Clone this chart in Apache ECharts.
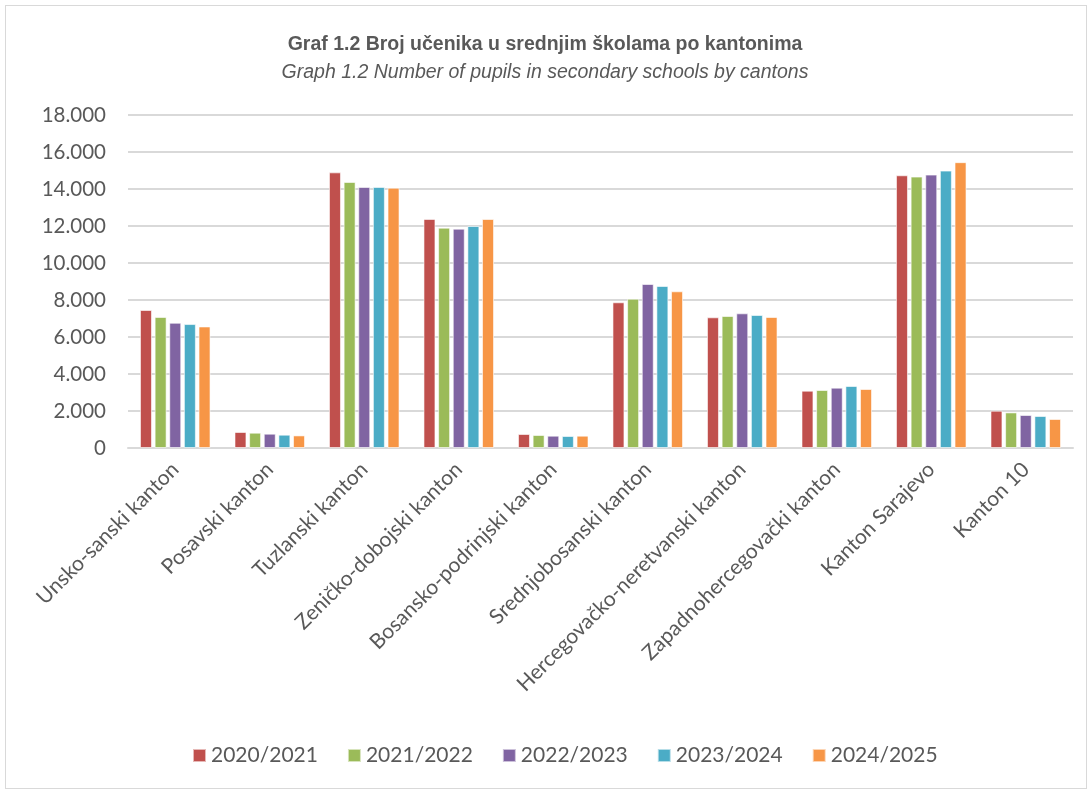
<!DOCTYPE html>
<html><head><meta charset="utf-8">
<script src="https://cdn.jsdelivr.net/npm/echarts@6/dist/echarts.min.js"></script>
<style>
html,body{margin:0;padding:0;background:#fff;}
#frame{position:absolute;left:5px;top:5px;width:1082px;height:784px;border:1px solid #d9d9d9;box-sizing:border-box;}
#c{position:absolute;left:0;top:0;width:1090px;height:791px;}
</style></head>
<body><div id="frame"></div><div id="c"></div>
<script>
const categories = ["Unsko-sanski kanton","Posavski kanton","Tuzlanski kanton","Zeničko-dobojski kanton","Bosansko-podrinjski kanton","Srednjobosanski kanton","Hercegovačko-neretvanski kanton","Zapadnohercegovački kanton","Kanton Sarajevo","Kanton 10"];
const seriesNames = ["2020/2021","2021/2022","2022/2023","2023/2024","2024/2025"];
const y2020 = [7460, 865, 14900, 12380, 757, 7876, 7065, 3097, 14741, 2016];
const y2021 = [7080, 827, 14380, 11910, 703, 8070, 7135, 3135, 14670, 1924];
const y2022 = [6770, 773, 14110, 11856, 665, 8865, 7280, 3260, 14778, 1784];
const y2023 = [6700, 719, 14110, 12000, 649, 8757, 7189, 3350, 14994, 1730];
const y2024 = [6570, 681, 14070, 12378, 665, 8470, 7081, 3189, 15450, 1568];
const colors = ["#C0504D","#9BBB59","#8064A2","#4BACC6","#F79646"];
const allData = [y2020,y2021,y2022,y2023,y2024];

const chart = echarts.init(document.getElementById('c'));
const fmt = v => String(v).replace(/\B(?=(\d{3})+(?!\d))/g, '.');
chart.setOption({
  animation:false,
  color:colors,
  title:{
    text:"Graf 1.2 Broj učenika u srednjim školama po kantonima",
    subtext:"Graph 1.2 Number of pupils in secondary schools by cantons",
    left:'center', top:30, itemGap:8,
    textStyle:{fontFamily:"'Liberation Sans Narrow','Arial Narrow',sans-serif",fontSize:19.5,fontWeight:'bold',color:'#595959'},
    subtextStyle:{fontFamily:"'Liberation Sans Narrow','Arial Narrow',sans-serif",fontSize:19.5,fontStyle:'italic',color:'#595959'}
  },
  legend:{
    bottom:20, left:187, itemWidth:13, itemHeight:13, itemGap:29,
    icon:'rect',
    textStyle:{fontFamily:"Lato, 'Open Sans', sans-serif",fontSize:21,color:'#595959'},
    data:seriesNames
  },
  grid:{left:128,right:17,top:115,height:333},
  xAxis:{
    type:'category', data:categories,
    axisLine:{lineStyle:{color:'#d9d9d9',width:2}},
    axisTick:{show:false},
    axisLabel:{rotate:45,interval:0,margin:18,fontFamily:"Lato, 'Open Sans', sans-serif",fontSize:21,color:'#595959'}
  },
  yAxis:{
    type:'value', min:0, max:18000, interval:2000,
    axisLine:{show:false}, axisTick:{show:false},
    splitLine:{lineStyle:{color:'#d9d9d9',width:2}},
    axisLabel:{formatter:fmt,margin:22,fontFamily:"Lato, 'Open Sans', sans-serif",fontSize:20.5,color:'#595959'}
  },
  series:seriesNames.map((n,i)=>({
    name:n, type:'bar', data:allData[i], barWidth:12, barGap:'22%',
    itemStyle:{color:colors[i],borderColor:'rgba(255,255,255,0.6)',borderWidth:1}
  }))
});
</script></body></html>
